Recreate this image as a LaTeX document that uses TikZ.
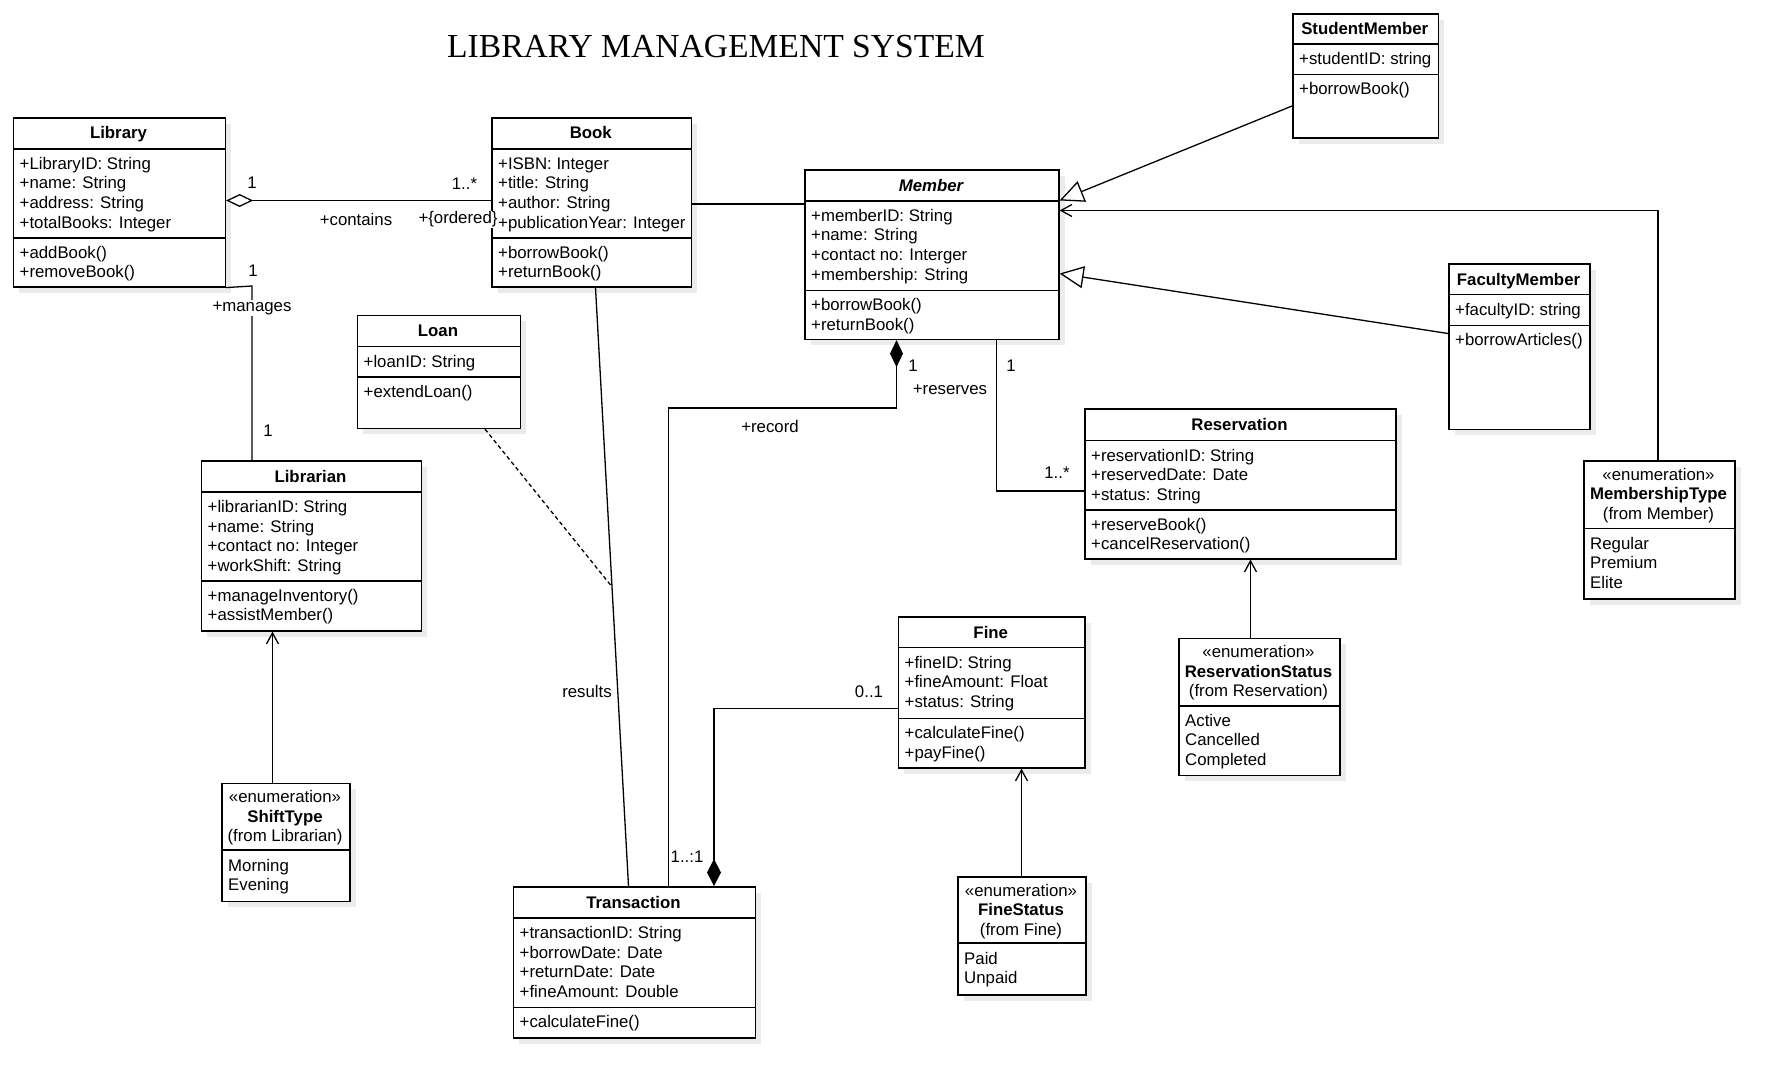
\documentclass[tikz,border=0pt]{standalone}
\usepackage{fontspec}
\setmainfont{Liberation Sans}
\newfontfamily\titlefont{Liberation Serif}
\usetikzlibrary{arrows.meta,shadows}
\newcommand\lefttab[1]{\begin{tabular}[t]{@{}l@{}}#1\end{tabular}}
\newcommand\centtab[1]{\begin{tabular}[t]{@{}c@{}}#1\end{tabular}}
\newcommand\umlfont{\fontsize{16.8}{19.7}\selectfont}
\begin{document}
\begin{tikzpicture}[x=1pt,y=-1pt,
  box/.style={draw, line width=1.6pt, fill=white, inner sep=0pt, anchor=north west,
    drop shadow={shadow xshift=6pt, shadow yshift=-6pt, fill=black!8, opacity=1}},
  divider/.style={line width=1.5pt},
  ttl/.style={font=\umlfont\bfseries, anchor=base, inner sep=0pt},
  txt/.style={font=\umlfont, anchor=base west, inner sep=0pt},
  ctxt/.style={font=\umlfont, anchor=base, inner sep=0pt},
  lbl/.style={font=\umlfont, fill=white, inner sep=1pt},
  con/.style={line width=1.3pt},
  barb/.style={-{Straight Barb[length=11pt,width=12pt]}},
]
\useasboundingbox[fill=white] (0,0) rectangle (1786,1089);

% title
\node[font=\titlefont\fontsize{33.6}{40}\selectfont, anchor=base, inner sep=0pt] (title) at (716,57.5) {LIBRARY MANAGEMENT SYSTEM};

% ---------- Library
\node[box, minimum width=212pt, minimum height=169pt] (library) at (12.5,117) {};
\draw[divider] (12.5,149) -- (224.5,149);
\draw[divider] (12.5,238) -- (224.5,238);
\node[ttl] (library-t) at (118.5,139) {Library};
\node[txt] (library-a) at (19.5,169) {\lefttab{+LibraryID: String\\+name: String\\+address: String\\+totalBooks: Integer}};
\node[txt] (library-o) at (19.5,258) {\lefttab{+addBook()\\+removeBook()}};

% ---------- Book
\node[box, minimum width=199.5pt, minimum height=169pt] (book) at (491,117) {};
\draw[divider] (491,149) -- (690.5,149);
\draw[divider] (491,238) -- (690.5,238);
\node[ttl] (book-t) at (590.75,139) {Book};
\node[txt] (book-a) at (498,169) {\lefttab{+ISBN: Integer\\+title: String\\+author: String\\+publicationYear: Integer}};
\node[txt] (book-o) at (498,258) {\lefttab{+borrowBook()\\+returnBook()}};

% ---------- StudentMember
\node[box, minimum width=145.5pt, minimum height=124.5pt] (student) at (1292,13) {};
\draw[divider] (1292,44) -- (1437.5,44);
\draw[divider] (1292,74.5) -- (1437.5,74.5);
\node[ttl] (student-t) at (1364.75,35) {StudentMember};
\node[txt] (student-a) at (1299,64.5) {+studentID: string};
\node[txt] (student-o) at (1299,94.5) {+borrowBook()};

% ---------- Member
\node[box, minimum width=254pt, minimum height=169pt] (member) at (804,169.5) {};
\draw[divider] (804,201) -- (1058,201);
\draw[divider] (804,290.5) -- (1058,290.5);
\node[ttl, font=\umlfont\bfseries\itshape] (member-t) at (931,191) {Member};
\node[txt] (member-a) at (811,221) {\lefttab{+memberID: String\\+name: String\\+contact no: Interger\\+membership: String}};
\node[txt] (member-o) at (811,310.5) {\lefttab{+borrowBook()\\+returnBook()}};

% ---------- FacultyMember
\node[box, minimum width=141pt, minimum height=165.5pt] (faculty) at (1448,263) {};
\draw[divider] (1448,294.5) -- (1589,294.5);
\draw[divider] (1448,325.5) -- (1589,325.5);
\node[ttl] (faculty-t) at (1518.5,285) {FacultyMember};
\node[txt] (faculty-a) at (1455,315) {+facultyID: string};
\node[txt] (faculty-o) at (1455,345.5) {+borrowArticles()};

% ---------- Loan
\node[box, minimum width=163pt, minimum height=113pt] (loan) at (356.5,314.5) {};
\draw[divider] (356.5,346.5) -- (519.5,346.5);
\draw[divider] (356.5,377) -- (519.5,377);
\node[ttl] (loan-t) at (438,336.5) {Loan};
\node[txt] (loan-a) at (363.5,367) {+loanID: String};
\node[txt] (loan-o) at (363.5,397) {+extendLoan()};

% ---------- Librarian
\node[box, minimum width=220pt, minimum height=170pt] (librarian) at (200.5,460) {};
\draw[divider] (200.5,492) -- (420.5,492);
\draw[divider] (200.5,581) -- (420.5,581);
\node[ttl] (librarian-t) at (310.5,482) {Librarian};
\node[txt] (librarian-a) at (207.5,512.5) {\lefttab{+librarianID: String\\+name: String\\+contact no: Integer\\+workShift: String}};
\node[txt] (librarian-o) at (207.5,601) {\lefttab{+manageInventory()\\+assistMember()}};

% ---------- Reservation
\node[box, minimum width=311pt, minimum height=150pt] (reservation) at (1084,408) {};
\draw[divider] (1084,440.5) -- (1395,440.5);
\draw[divider] (1084,510) -- (1395,510);
\node[ttl] (reservation-t) at (1239.5,430.5) {Reservation};
\node[txt] (reservation-a) at (1091,461) {\lefttab{+reservationID: String\\+reservedDate: Date\\+status: String}};
\node[txt] (reservation-o) at (1091,530) {\lefttab{+reserveBook()\\+cancelReservation()}};

% ---------- MembershipType
\node[box, minimum width=151pt, minimum height=138pt] (memtype) at (1583,460) {};
\draw[divider] (1583,528.5) -- (1734,528.5);
\node[ctxt] (memtype-h) at (1658.5,480) {\centtab{«enumeration»\\\textbf{MembershipType}\\(from Member)}};
\node[txt] (memtype-l) at (1590,549) {\lefttab{Regular\\Premium\\Elite}};

% ---------- Fine
\node[box, minimum width=186.5pt, minimum height=151pt] (fine) at (897.5,616) {};
\draw[divider] (897.5,647.5) -- (1084,647.5);
\draw[divider] (897.5,718.5) -- (1084,718.5);
\node[ttl] (fine-t) at (990.75,638) {Fine};
\node[txt] (fine-a) at (904.5,668) {\lefttab{+fineID: String\\+fineAmount: Float\\+status: String}};
\node[txt] (fine-o) at (904.5,738.5) {\lefttab{+calculateFine()\\+payFine()}};

% ---------- ReservationStatus
\node[box, minimum width=161pt, minimum height=137pt] (resstatus) at (1178,637.5) {};
\draw[divider] (1178,706) -- (1339,706);
\node[ctxt] (resstatus-h) at (1258.5,657.5) {\centtab{«enumeration»\\\textbf{ReservationStatus}\\(from Reservation)}};
\node[txt] (resstatus-l) at (1185,726) {\lefttab{Active\\Cancelled\\Completed}};

% ---------- ShiftType
\node[box, minimum width=128pt, minimum height=118pt] (shift) at (221,782.5) {};
\draw[divider] (221,850) -- (349,850);
\node[ctxt] (shift-h) at (285,802.5) {\centtab{«enumeration»\\\textbf{ShiftType}\\(from Librarian)}};
\node[txt] (shift-l) at (228,871) {\lefttab{Morning\\Evening}};

% ---------- Transaction
\node[box, minimum width=242pt, minimum height=151pt] (transaction) at (512.5,886) {};
\draw[divider] (512.5,918) -- (754.5,918);
\draw[divider] (512.5,1007.5) -- (754.5,1007.5);
\node[ttl] (transaction-t) at (633.5,908) {Transaction};
\node[txt] (transaction-a) at (519.5,938.5) {\lefttab{+transactionID: String\\+borrowDate: Date\\+returnDate: Date\\+fineAmount: Double}};
\node[txt] (transaction-o) at (519.5,1027.5) {+calculateFine()};

% ---------- FineStatus
\node[box, minimum width=128pt, minimum height=118pt] (finestatus) at (957,876) {};
\draw[divider] (957,943) -- (1085,943);
\node[ctxt] (finestatus-h) at (1021,896) {\centtab{«enumeration»\\\textbf{FineStatus}\\(from Fine)}};
\node[txt] (finestatus-l) at (964,964) {\lefttab{Paid\\Unpaid}};

% ---------- connector helper coordinates
\coordinate (yAgg) at (0,200.5);
\coordinate (yBM) at (0,204);
\coordinate (manB) at (252,286);
\coordinate (resA) at (595.5,0);
\coordinate (resB) at (628.5,0);
\coordinate (lnA) at (485,0);
\coordinate (recA) at (896.5,408);
\coordinate (recB) at (668.5,408);
\coordinate (rsvA) at (996.5,491);
\coordinate (fnA) at (714,708.5);
\coordinate (stA) at (0,106);
\coordinate (stB) at (0,200.5);
\coordinate (fcA) at (0,333.5);
\coordinate (fcB) at (0,273.5);
\coordinate (mtA) at (1658,210.5);
\coordinate (rsX) at (1250.5,0);
\coordinate (shX) at (272.5,0);
\coordinate (fsX) at (1021.5,0);

% ---------- connectors
\draw[con, {Diamond[open,fill=white,length=27pt,width=13pt]}-] (library.east |- yAgg) -- (book.west |- yAgg);
\draw[con] (book.east |- yBM) -- (member.west |- yBM);
\draw[con] (library.south east) -- (manB) -- (librarian.north -| manB);
\draw[con] (book.south -| resA) -- coordinate[midway] (assoc) (transaction.north -| resB);
\draw[con, dash pattern=on 4pt off 3pt] (loan.south -| lnA) -- (assoc);
\draw[con, {Diamond[length=27pt,width=13pt]}-] (member.south -| recA) -- (recA) -- (recB) -- (transaction.north -| recB);
\draw[con] (member.south -| rsvA) -- (rsvA) -- (reservation.west |- rsvA);
\draw[con, -{Diamond[length=27pt,width=14pt]}] (fine.west |- fnA) -- (fnA) -- (transaction.north -| fnA);
\draw[con, -{Triangle[open,fill=white,length=24pt,width=22pt]}] (student.west |- stA) -- (member.east |- stB);
\draw[con, -{Triangle[open,fill=white,length=24pt,width=22pt]}] (faculty.west |- fcA) -- (member.east |- fcB);
\draw[con, barb] (memtype.north -| mtA) -- (mtA) -- (member.east |- mtA);
\draw[con, barb] (resstatus.north -| rsX) -- (reservation.south -| rsX);
\draw[con, barb] (shift.north -| shX) -- (librarian.south -| shX);
\draw[con, barb] (finestatus.north -| fsX) -- (fine.south -| fsX);

% ---------- labels
\node[lbl] (l1) at (252,183) {1};
\node[lbl] (l2) at (464.5,184) {1..*};
\node[lbl] (l3) at (356,219.5) {+contains};
\node[lbl] (l4) at (458,219.5) {+\{ordered\}};
\node[lbl] (l5) at (253,271) {1};
\node[lbl] (l6) at (252,308) {+manages};
\node[lbl] (l7) at (268,431) {1};
\node[lbl] (l8) at (913,366) {1};
\node[lbl] (l9) at (950,390) {+reserves};
\node[lbl] (l10) at (770,426.5) {+record};
\node[lbl] (l11) at (1011,366) {1};
\node[lbl] (l12) at (1057,473) {1..*};
\node[lbl] (l13) at (587,691.5) {results};
\node[lbl] (l14) at (869,692) {0..1};
\node[lbl] (l15) at (687,857) {1..:1};
\end{tikzpicture}
\end{document}
